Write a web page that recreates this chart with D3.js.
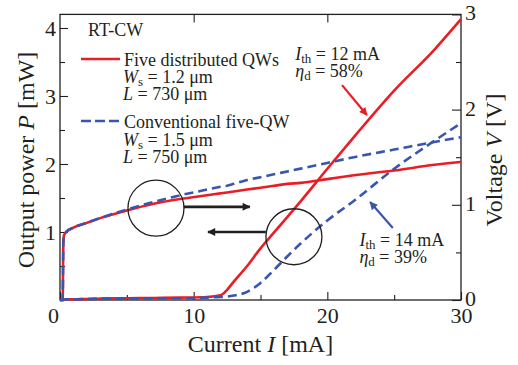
<!DOCTYPE html>
<html>
<head>
<meta charset="utf-8">
<script src="https://cdn.jsdelivr.net/npm/d3@7"></script>
<style>
  body { margin: 0; background: #fff; }
  svg, svg text { font-family: 'Liberation Serif', 'Times New Roman', 'DejaVu Serif', serif; }
</style>
</head>
<body>
<svg></svg>
<script>
// values
const current = [0, 0.2, 0.25, 0.3, 0.5, 1, 2, 3, 5, 7, 9, 11, 12, 12.5, 13, 14, 15, 16, 17, 18, 20, 22, 25, 28, 30];
// five distributed QWs (red)
const powerRed = [0, 0, 0, 0.005, 0.01, 0.01, 0.015, 0.02, 0.025, 0.03, 0.035, 0.045, 0.07, 0.15, 0.27, 0.5, 0.76, 0.99, 1.22, 1.45, 1.93, 2.4, 3.08, 3.68, 4.13];
const voltRed = [0, 0, 0.6, 0.68, 0.72, 0.76, 0.81, 0.86, 0.94, 1.01, 1.06, 1.1, 1.12, 1.13, 1.14, 1.16, 1.18, 1.2, 1.22, 1.23, 1.27, 1.31, 1.36, 1.42, 1.45];
// conventional five-QW (blue)
const powerBlue = [0, 0, 0, 0.005, 0.01, 0.01, 0.015, 0.02, 0.02, 0.025, 0.025, 0.035, 0.045, 0.05, 0.065, 0.12, 0.25, 0.44, 0.64, 0.83, 1.17, 1.46, 1.93, 2.34, 2.6];
const voltBlue = [0, 0, 0.6, 0.68, 0.72, 0.76, 0.81, 0.86, 0.95, 1.03, 1.1, 1.16, 1.19, 1.2, 1.22, 1.26, 1.29, 1.32, 1.35, 1.38, 1.44, 1.5, 1.58, 1.66, 1.71];

const xTicks = [0, 10, 20, 30];
const xMinor = [5, 15, 25];
const pTicks = [1, 2, 3, 4];
const pMinor = [0.5, 1.5, 2.5, 3.5];
const vTicks = [0, 1, 2, 3];
const vMinor = [0.5, 1.5, 2.5];

const red = '#ec1c24', blue = '#3a55ae', ink = '#231f20';
const serif = "'Liberation Serif', 'Times New Roman', 'DejaVu Serif', serif";
const size = {w: 518, h: 365};
const margin = {t: 14.4, r: 57, b: 65, l: 60};

const svg = d3.select('svg').attr('width', size.w).attr('height', size.h);

const x = d3.scaleLinear().domain([0, 30]).range([margin.l, size.w - margin.r]);
const yP = d3.scaleLinear().domain([0, 4.2]).range([size.h - margin.b, margin.t]);
const yV = d3.scaleLinear().domain([0, 3]).range([size.h - margin.b, margin.t]);

const x0 = x.range()[0], x1 = x.range()[1], yb = yP.range()[0], yt = yP.range()[1];
const fmt = d3.format('d');

// axes, ticks pointing in
function styleAxis(g) {
  g.attr('font-family', serif).attr('font-size', 22);
  g.select('.domain').remove();
  g.selectAll('line').attr('stroke', ink).attr('stroke-width', 1.1);
  g.selectAll('text').attr('fill', ink);
}
svg.append('g').attr('transform', `translate(0,${yb})`)
  .call(d3.axisBottom(x).tickValues(xTicks).tickFormat(fmt).tickSize(-8).tickPadding(7)).call(styleAxis)
  .selectAll('text').attr('dx', (d, i) => i === 0 ? -7 : 0);
svg.append('g').attr('transform', `translate(0,${yb})`)
  .call(d3.axisBottom(x).tickValues(xMinor).tickSize(-5).tickFormat('')).call(styleAxis);
svg.append('g').attr('transform', `translate(0,${yt})`)
  .call(d3.axisTop(x).tickValues([10, 20]).tickSize(-8).tickFormat('')).call(styleAxis);
svg.append('g').attr('transform', `translate(${x0},0)`)
  .call(d3.axisLeft(yP).tickValues(pTicks).tickFormat(fmt).tickSize(-8).tickPadding(4)).call(styleAxis);
svg.append('g').attr('transform', `translate(${x0},0)`)
  .call(d3.axisLeft(yP).tickValues(pMinor).tickSize(-5).tickFormat('')).call(styleAxis);
svg.append('g').attr('transform', `translate(${x1},0)`)
  .call(d3.axisRight(yV).tickValues(vTicks).tickFormat(fmt).tickSize(-9).tickPadding(4)).call(styleAxis)
  .selectAll('text').attr('dy', '0.25em');
svg.append('g').attr('transform', `translate(${x1},0)`)
  .call(d3.axisRight(yV).tickValues(vMinor).tickSize(-5).tickFormat('')).call(styleAxis);

svg.append('rect')
  .attr('x', x0).attr('y', yt).attr('width', x1 - x0).attr('height', yb - yt)
  .attr('fill', 'none').attr('stroke', ink).attr('stroke-width', 1.3);

// curves
const lineP = d3.line().x(d => x(d[0])).y(d => yP(d[1])).curve(d3.curveMonotoneX);
const lineV = d3.line().x(d => x(d[0])).y(d => yV(d[1])).curve(d3.curveMonotoneX);
const curves = [
  {vals: powerRed, line: lineP, color: red, dash: null},
  {vals: voltRed, line: lineV, color: red, dash: null},
  {vals: powerBlue, line: lineP, color: blue, dash: '9,5'},
  {vals: voltBlue, line: lineV, color: blue, dash: '9,5'}
];
svg.append('g').selectAll('path').data(curves).enter().append('path')
  .attr('d', d => d.line(current.map((c, i) => [c, d.vals[i]])))
  .attr('fill', 'none')
  .attr('stroke', d => d.color)
  .attr('stroke-width', 2.6)
  .attr('stroke-dasharray', d => d.dash);

// arrow heads
const defs = svg.append('defs');
function marker(id, color, w, h) {
  defs.append('marker').attr('id', id)
    .attr('viewBox', '0 0 10 10').attr('refX', 9).attr('refY', 5)
    .attr('markerUnits', 'userSpaceOnUse')
    .attr('markerWidth', w).attr('markerHeight', h).attr('orient', 'auto')
    .append('path').attr('d', 'M0,0L10,5L0,10z').attr('fill', color);
}
marker('headK', ink, 15, 8);
marker('headR', red, 11, 8);
marker('headB', blue, 11, 8);

// circles marking which curve belongs to which axis
const circles = [[7.18, 1.35], [17.5, 0.93]];
svg.append('g').selectAll('circle').data(circles).enter().append('circle')
  .attr('cx', d => x(d[0])).attr('cy', d => yP(d[1])).attr('r', 28)
  .attr('fill', 'none').attr('stroke', ink).attr('stroke-width', 1.3);

const arrows = [
  {from: [9.27, 1.37], to: [14.2, 1.37], head: 'headK', color: ink, w: 2.6},
  {from: [15.4, 1.0], to: [11.07, 1.0], head: 'headK', color: ink, w: 2.6},
  {from: [21.1, 3.16], to: [22.96, 2.72], head: 'headR', color: red, w: 2.2},
  {from: [24.9, 1.06], to: [23.2, 1.44], head: 'headB', color: blue, w: 2.2}
];
svg.append('g').selectAll('line').data(arrows).enter().append('line')
  .attr('x1', d => x(d.from[0])).attr('y1', d => yP(d.from[1]))
  .attr('x2', d => x(d.to[0])).attr('y2', d => yP(d.to[1]))
  .attr('stroke', d => d.color).attr('stroke-width', d => d.w)
  .attr('marker-end', d => `url(#${d.head})`);

// annotation text helper: parts = [[text, style]]
function richText(g, px, py, parts, fs) {
  const t = g.append('text').attr('x', px).attr('y', py)
    .attr('font-family', serif).attr('font-size', fs).attr('fill', ink);
  parts.forEach(p => {
    const s = t.append('tspan').text(p[0]);
    if (p[1] === 'i') s.attr('font-style', 'italic');
    if (p[1] === 'sub') s.attr('font-size', fs * 0.72).attr('baseline-shift', '-22%');
  });
  return t;
}

const ann = svg.append('g');
richText(ann, x(17.6), yP(3.53), [['I', 'i'], ['th', 'sub'], [' = 12 mA']], 18);
richText(ann, x(17.6), yP(3.53) + 17, [['η', 'i'], ['d', 'sub'], [' = 58%']], 18);
richText(ann, x(22.4), yP(0.79), [['I', 'i'], ['th', 'sub'], [' = 14 mA']], 18);
richText(ann, x(22.4), yP(0.79) + 17, [['η', 'i'], ['d', 'sub'], [' = 39%']], 18);

// legend
const leg = svg.append('g');
richText(leg, 88, 36, [['RT-CW']], 18);
leg.append('line').attr('x1', 81).attr('x2', 120).attr('y1', 59).attr('y2', 59)
  .attr('stroke', red).attr('stroke-width', 2.6);
richText(leg, 124, 66, [['Five distributed QWs']], 18);
richText(leg, 123, 83, [['W', 'i'], ['s', 'sub'], [' = 1.2 μm']], 18);
richText(leg, 123, 100, [['L', 'i'], [' = 730 μm']], 18);
leg.append('line').attr('x1', 81).attr('x2', 120).attr('y1', 121).attr('y2', 121)
  .attr('stroke', blue).attr('stroke-width', 2.6).attr('stroke-dasharray', '10,4');
richText(leg, 124, 128, [['Conventional five-QW']], 18);
richText(leg, 123, 146, [['W', 'i'], ['s', 'sub'], [' = 1.5 μm']], 18);
richText(leg, 123, 163, [['L', 'i'], [' = 750 μm']], 18);

// axis titles
richText(svg, (x0 + x1) / 2, 352, [['Current '], ['I', 'i'], [' [mA]']], 24)
  .attr('text-anchor', 'middle');
richText(svg, 0, 0, [['Output power '], ['P', 'i'], [' [mW]']], 24)
  .attr('text-anchor', 'middle').attr('transform', 'translate(34,160) rotate(-90)');
richText(svg, 0, 0, [['Voltage '], ['V', 'i'], [' [V]']], 24)
  .attr('text-anchor', 'middle').attr('transform', 'translate(502,160) rotate(-90)');
</script>
</body>
</html>
